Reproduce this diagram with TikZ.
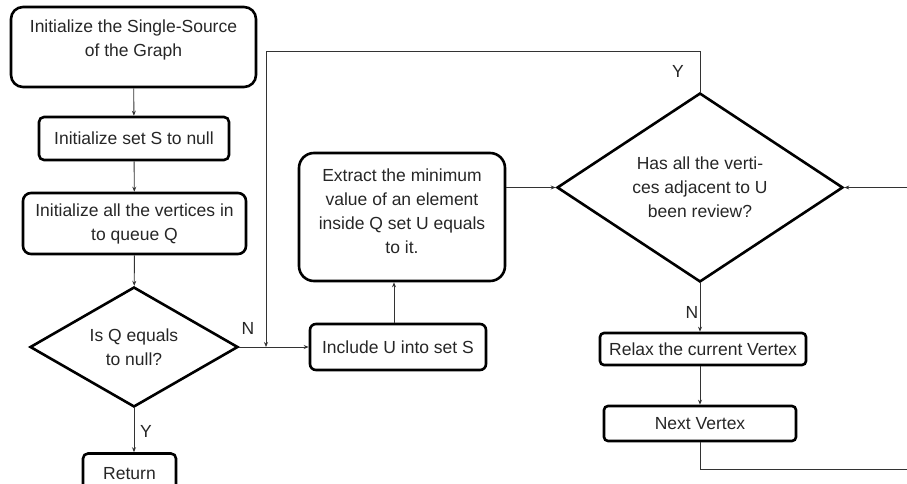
\documentclass[tikz,border=0pt]{standalone}
\usepackage{fontspec}
\setmainfont{Liberation Sans}
\usetikzlibrary{shapes.geometric,arrows.meta}
\begin{document}
\begin{tikzpicture}[x=1pt,y=-1pt,
  every node/.style={font=\fontsize{17.5}{24}\selectfont, text=black!85},
  box/.style={draw=black, line width=2.6pt, align=center, inner sep=0pt},
  dia/.style={draw=black, diamond, line width=2.6pt, align=center, inner sep=0pt},
  arr/.style={draw=black!80, line width=0.9pt, -{Stealth[length=5pt,width=4pt]}},
  ln/.style={draw=black!80, line width=0.9pt}]
\useasboundingbox (0,0) rectangle (907,484);

% boxes
\node[box, rounded corners=12pt, minimum width=245pt, minimum height=80pt] (b1) at (133.5,47) {};
\node[align=center] (b1t) at (133.5,40) {Initialize the Single-Source\\of the Graph};
\node[box, rounded corners=5pt, minimum width=190pt, minimum height=43pt] (b2) at (134,138.5) {Initialize set S to null};
\node[box, rounded corners=8pt, minimum width=223pt, minimum height=61pt] (b3) at (134.5,223.5) {Initialize all the vertices in\\to queue Q};
\node[dia, aspect=1.72, minimum width=208pt, minimum height=120pt] (d1) at (134,347) {Is Q equals\\to null?};
\begin{scope}
\clip (0,0) rectangle (907,484);
\node[box, rounded corners=5pt, minimum width=93pt, minimum height=40pt] (ret) at (129.5,473.5) {Return};
\end{scope}
\node[box, rounded corners=6pt, minimum width=176pt, minimum height=46pt] (inc) at (398,347) {Include U into set S};
\node[box, rounded corners=15pt, minimum width=206pt, minimum height=128pt] (ext) at (402,217) {};
\node[align=center] (extt) at (402,211) {Extract the minimum\\value of an element\\inside Q set U equals\\to it.};
\node[dia, aspect=1.5, minimum width=286pt, minimum height=189pt] (d2) at (700,187.5) {Has all the verti-\\ces adjacent to U\\been review?};
\node[box, rounded corners=4pt, minimum width=206pt, minimum height=32pt] (rel) at (703,349) {Relax the current Vertex};
\node[box, rounded corners=4pt, minimum width=192pt, minimum height=35pt] (nxt) at (700,423.5) {Next Vertex};

% helper points
\coordinate (jt) at (266,51);
\coordinate (jn) at (266,347);
\coordinate (e1) at (907,469);
\coordinate (e2) at (907,187.5);

% connectors
\draw[arr] (b1) -- (b2);
\draw[arr] (b2) -- (b3);
\draw[arr] (b3) -- (d1);
\draw[arr] (d1.south) -- (d1.south |- ret.north);
\draw[arr] (d1.east) -- (inc.west);
\draw[arr] (d2.north) |- (jt) -- (jn);
\draw[arr] ([xshift=-4pt]inc.north) -- ([xshift=-4pt]inc.north |- ext.south);
\draw[arr] (ext.east |- d2.west) -- (d2.west);
\draw[arr] (d2.south) -- (d2.south |- rel.north);
\draw[arr] (rel.south -| nxt.north) -- (nxt.north);
\draw[ln] (nxt.south) |- (e1);
\draw[arr] (e2) -- (d2.east);

% labels
\node (lN1) at (248,328) {N};
\node (lY1) at (146,431) {Y};
\node (lY2) at (678,71) {Y};
\node (lN2) at (692,312) {N};
\end{tikzpicture}
\end{document}
